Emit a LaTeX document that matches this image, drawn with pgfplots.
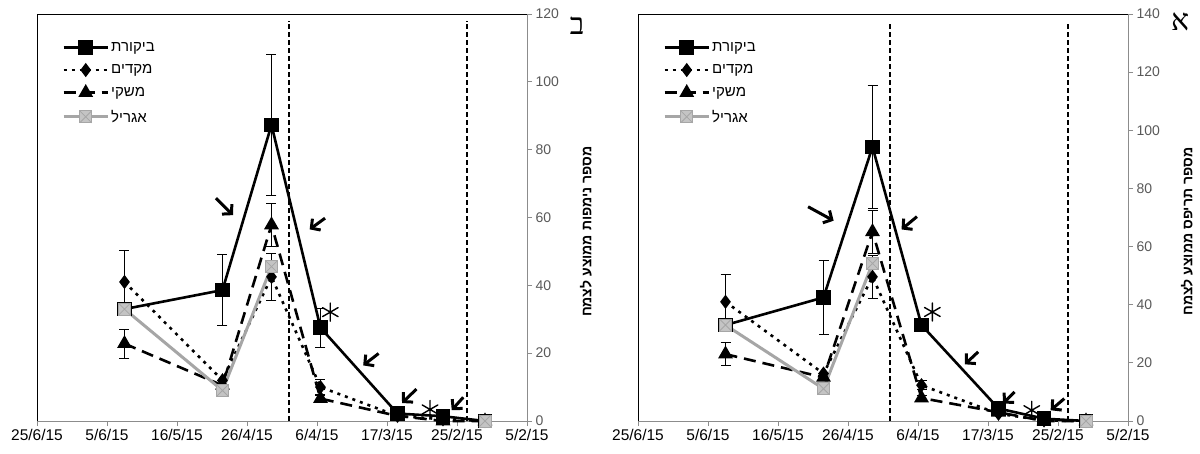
\documentclass[border=0pt]{standalone}
\usepackage{fontspec}
\setmainfont{Liberation Sans}
\newfontfamily\hebfont[Script=Hebrew]{Liberation Sans}
\newfontfamily\hebserif[Script=Hebrew]{Liberation Serif}
\TeXXeTstate=1
\usepackage{pgfplots}
\usepackage{pgfplotstable}
\pgfplotsset{compat=1.18}
\usetikzlibrary{arrows.meta}
\newcommand\heb[1]{{\hebfont\beginR #1\endR}}
\definecolor{agrilfill}{HTML}{C4C4C4}
\definecolor{agrilline}{HTML}{A6A6A6}
\definecolor{axisgray}{HTML}{8C8C8C}
\definecolor{ticktext}{HTML}{595959}

% square with a cross, as Excel draws it
\pgfdeclareplotmark{sqx}{%
  \pgfpathrectangle{\pgfqpoint{-\pgfplotmarksize}{-\pgfplotmarksize}}{\pgfqpoint{2\pgfplotmarksize}{2\pgfplotmarksize}}%
  \pgfusepathqfillstroke
  \pgfpathmoveto{\pgfqpoint{-\pgfplotmarksize}{-\pgfplotmarksize}}%
  \pgfpathlineto{\pgfqpoint{\pgfplotmarksize}{\pgfplotmarksize}}%
  \pgfpathmoveto{\pgfqpoint{-\pgfplotmarksize}{\pgfplotmarksize}}%
  \pgfpathlineto{\pgfqpoint{\pgfplotmarksize}{-\pgfplotmarksize}}%
  \pgfusepathqstroke}

% day of year 2015
\pgfplotstableread{
day ctrl ctrle early earlye farm farme agril
151 33   0    41   9.3  22.8 4.3  33
123 38.6 10.5 12   0    10.5 0    9
109 87.3 20.9 42.5 7    57.8 6.4  45.5
95  27.5 5.7  10   2.3  6.6  1    nan
73  2.2  0.8  1.5  0    1.5  0    nan
60  1.4  0.5  0.5  0    0    0    nan
48  0    0    0    0    0    0    0
}\nymphs

\pgfplotstableread{
day ctrl ctrle early earlye farm farme agril
151 33   0    41   9.4  23   4    33
123 42.5 12.8 16.3 0    15   0    11.1
109 94.3 21   49.6 7.5  65.1 7.5  54.2
95  33   2    12.3 1.5  7.9  1    nan
73  4.3  1    2.5  0    3    0    nan
60  0.8  0.5  0.2  0    0    0    nan
48  0    0    0    0    0    0    0
}\thrips

\tikzset{
  arr/.style={black, line width=3pt, -{Straight Barb[length=6.5pt,width=14pt]}},
}
% six-armed asterisk annotation
\newcommand\astk{\tikz\draw[line width=1.4pt, line cap=round]
  (90:9pt)--(270:9pt) (30:9pt)--(210:9pt) (150:9pt)--(330:9pt);}

\pgfplotsset{
  panel/.style={
    scale only axis, width=490pt, height=407pt,
    x dir=reverse, xmin=36, xmax=176,
    xtick={36,56,76,96,116,136,156,176},
    xticklabels={5/2/15,25/2/15,17/3/15,6/4/15,26/4/15,16/5/15,5/6/15,25/6/15},
    axis x line*=bottom, axis y line*=right,
    axis line style={axisgray, line width=0.8pt, -},
    tick align=outside, major tick length=5pt,
    tick style={axisgray, line width=0.8pt},
    ymin=0, ytick distance=20,
    yticklabel style={font=\fontsize{14}{14}\selectfont, text=ticktext,
      /pgf/number format/assume math mode=true},
    xticklabel style={font=\fontsize{15.5}{15.5}\selectfont},
    clip=false, unbounded coords=jump,
    legend style={draw=none, fill=none, at={(axis description cs:0.045,0.941)},
      anchor=north west, font=\fontsize{15}{15}\selectfont,
      row sep=8pt, cells={anchor=west}},
    legend image code/.code={\draw[mark repeat=2,mark phase=2]
      plot coordinates {(0pt,0pt) (22pt,0pt) (44pt,0pt)};},
  },
  errs/.style={error bars/.cd, y dir=both, y explicit,
    error bar style={black, line width=0.8pt, solid},
    error mark options={rotate=90, mark size=5pt, black, line width=0.8pt}},
  ctrl/.style={black, line width=2.6pt, mark=square*, mark size=6pt, mark options={solid}},
  early/.style={black, line width=2.6pt, dash pattern=on 3pt off 5pt, mark=diamond*, mark size=5pt, mark options={solid}},
  farm/.style={black, line width=2.6pt, dash pattern=on 12pt off 7pt, mark=triangle*, mark size=6pt, mark options={solid}},
  agril/.style={agrilline, line width=3pt, mark=sqx, mark size=6pt, mark options={solid, fill=agrilfill, draw=agrilline, line width=0.8pt}},
  vline/.style={black, line width=1.6pt, dash pattern=on 5pt off 3pt, forget plot},
}

\begin{document}
\begin{tikzpicture}
\path[use as bounding box] (0,0) rectangle (1200pt,453pt);

% panel B (left): nymphs
\begin{axis}[panel, at={(37pt,32pt)}, anchor=south west, ymax=120]
\addplot[ctrl, errs] table[x=day, y=ctrl, y error=ctrle] {\nymphs};
\addlegendentry{\heb{ביקורת}}
\addplot[early, errs] table[x=day, y=early, y error=earlye] {\nymphs};
\addlegendentry{\heb{מקדים}}
\addplot[farm, errs] table[x=day, y=farm, y error=farme] {\nymphs};
\addlegendentry{\heb{משקי}}
\addplot[agril] table[x=day, y=agril] {\nymphs};
\addlegendentry{\heb{אגריל}}
\addplot[vline] coordinates {(104,0) (104,118)};
\addplot[vline] coordinates {(53.2,0) (53.2,118)};
\draw[black, line width=0.8pt] (axis description cs:0,0) -- (axis description cs:0,1) -- (axis description cs:1,1);
\draw[arr] (axis cs:124.9,65.7) -- (axis cs:120,60.7);
\draw[arr] (axis cs:93.7,59.8) -- (axis cs:98.1,56.5);
\draw[arr] (axis cs:78.4,19.9) -- (axis cs:82.8,16.4);
\draw[arr] (axis cs:67.6,9.4) -- (axis cs:71.7,5.3);
\draw[arr] (axis cs:54.2,7.0) -- (axis cs:57.5,3.2);
\node[inner sep=0pt] at (axis cs:92.2,32.1) {\astk};
\node[inner sep=0pt] at (axis cs:63.7,3.4) {\astk};
\node[rotate=90, font=\bfseries\fontsize{14}{14}\selectfont] at ([xshift=59pt]axis description cs:1,0.465) {\heb{מספר נימפות ממוצע לצמח}};
\node[font=\fontsize{30}{30}\selectfont] at ([xshift=50pt,yshift=-12pt]axis description cs:1,1) {\hebserif ב};
\end{axis}

% panel A (right): thrips
\begin{axis}[panel, at={(638pt,32pt)}, anchor=south west, ymax=140]
\addplot[ctrl, errs] table[x=day, y=ctrl, y error=ctrle] {\thrips};
\addlegendentry{\heb{ביקורת}}
\addplot[early, errs] table[x=day, y=early, y error=earlye] {\thrips};
\addlegendentry{\heb{מקדים}}
\addplot[farm, errs] table[x=day, y=farm, y error=farme] {\thrips};
\addlegendentry{\heb{משקי}}
\addplot[agril] table[x=day, y=agril] {\thrips};
\addlegendentry{\heb{אגריל}}
\addplot[vline] coordinates {(104,0) (104,137.5)};
\addplot[vline] coordinates {(53.2,0) (53.2,137.5)};
\draw[black, line width=0.8pt] (axis description cs:0,0) -- (axis description cs:0,1) -- (axis description cs:1,1);
\draw[arr] (axis cs:127.4,73.7) -- (axis cs:120.1,68.9);
\draw[arr] (axis cs:96.3,70.3) -- (axis cs:100.7,65.9);
\draw[arr] (axis cs:78.8,23.8) -- (axis cs:82.6,19.5);
\draw[arr] (axis cs:68.4,10) -- (axis cs:71.7,6);
\draw[arr] (axis cs:54.2,7.7) -- (axis cs:58.1,3.7);
\node[inner sep=0pt] at (axis cs:91.9,37.5) {\astk};
\node[inner sep=0pt] at (axis cs:63.5,3.7) {\astk};
\node[rotate=90, font=\bfseries\fontsize{14}{14}\selectfont] at ([xshift=59pt]axis description cs:1,0.465) {\heb{מספר תריפס ממוצע לצמח}};
\node[font=\fontsize{30}{30}\selectfont] at ([xshift=52pt,yshift=-8pt]axis description cs:1,1) {\hebserif א};
\end{axis}
\end{tikzpicture}
\end{document}
